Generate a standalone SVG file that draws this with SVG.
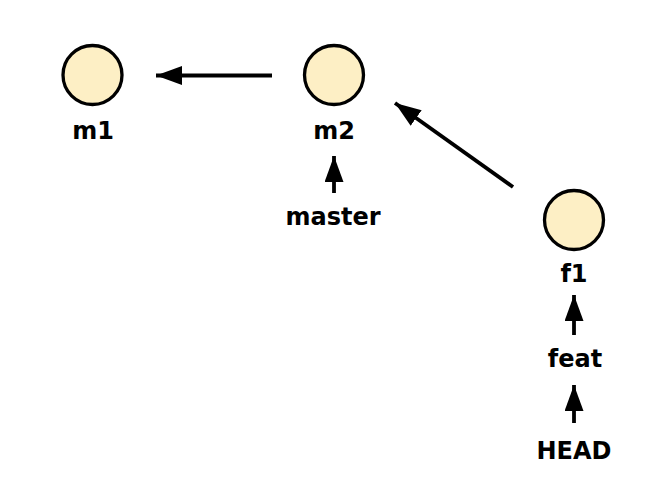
<svg xmlns="http://www.w3.org/2000/svg" width="665" height="490" viewBox="0 0 665 490">
<style>
.node{fill:#fdefc5;stroke:#000;stroke-width:3.3}
.lbl{font-family:"DejaVu Sans",Verdana,sans-serif;font-weight:bold;font-size:24px;text-anchor:middle;fill:#000}
.edge{stroke:#000;stroke-width:3.8;fill:none}
</style>
<defs>
<marker id="ah" markerUnits="userSpaceOnUse" markerWidth="28" markerHeight="20" refX="26" refY="9.5" orient="auto">
<path d="M0,0 L26,9.5 L0,19 Z" fill="#000"/>
</marker>
</defs>
<rect width="665" height="490" fill="#fff"/>
<g id="connectors">
<line class="edge" x1="272" y1="75.5" x2="156" y2="75.5" marker-end="url(#ah)"/>
<line class="edge" x1="513" y1="187" x2="395" y2="103" marker-end="url(#ah)"/>
<line class="edge" x1="334" y1="193" x2="334" y2="156" marker-end="url(#ah)"/>
<line class="edge" x1="574" y1="335" x2="574" y2="295" marker-end="url(#ah)"/>
<line class="edge" x1="574" y1="423" x2="574" y2="385" marker-end="url(#ah)"/>
</g>
<g id="m1">
<circle class="node" cx="92.5" cy="75" r="29.5"/>
<text class="lbl" x="93" y="139">m1</text>
</g>
<g id="m2">
<circle class="node" cx="334" cy="75" r="29.5"/>
<text class="lbl" x="334" y="139">m2</text>
</g>
<g id="f1">
<circle class="node" cx="574" cy="220" r="29.5"/>
<text class="lbl" x="574" y="282">f1</text>
</g>
<g id="master">
<text class="lbl" x="333" y="225">master</text>
</g>
<g id="feat">
<text class="lbl" x="575" y="367">feat</text>
</g>
<g id="HEAD">
<text class="lbl" x="574" y="459">HEAD</text>
</g>
</svg>
